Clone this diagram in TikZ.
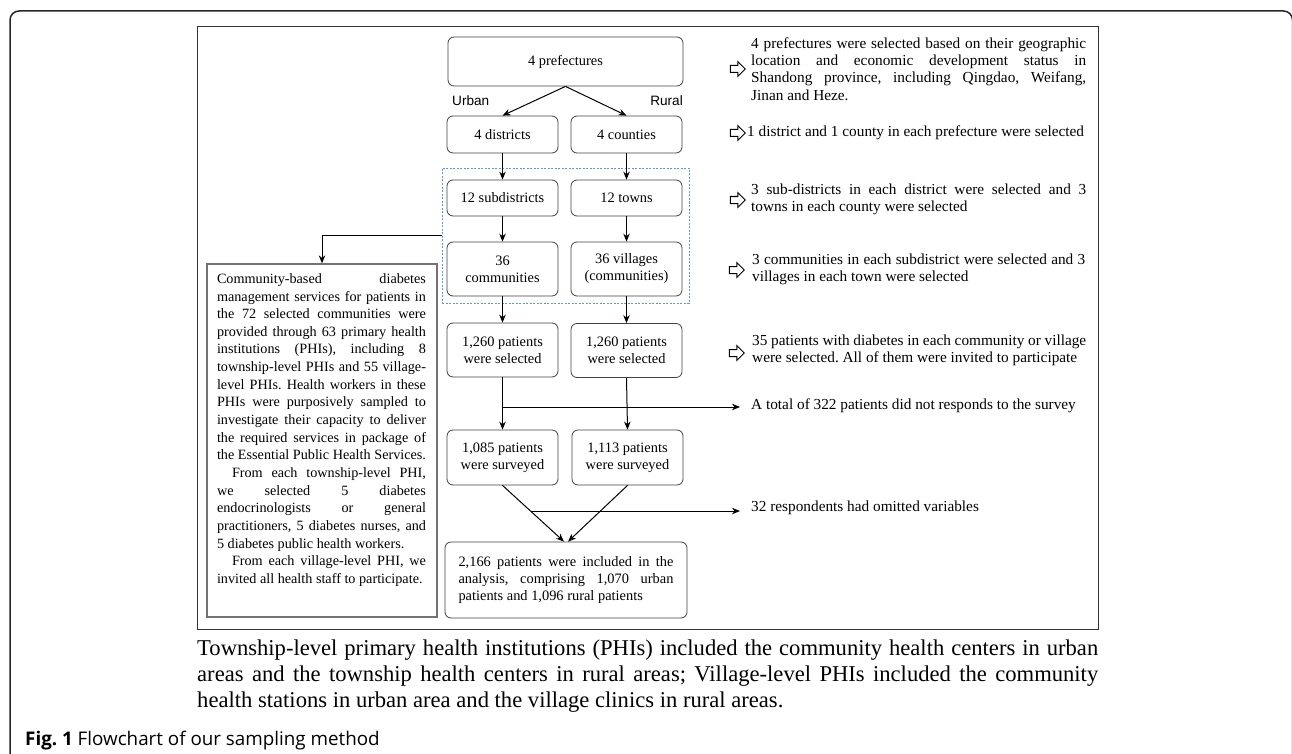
\documentclass[tikz,border=0pt]{standalone}
\usepackage{fontspec}
\setmainfont{Liberation Serif}
\newfontfamily\arialfont{Liberation Sans}
\newfontfamily\figfont{Open Sans}
\usetikzlibrary{arrows.meta,shapes.arrows,calc}
\frenchspacing
\newcommand\jl[2]{\makebox[#1][s]{#2}}
\tikzset{
  fbox/.style={draw=black!75, line width=0.8pt, rounded corners=6pt, align=center, inner sep=0pt,
    font=\fontsize{14.4}{17}\selectfont},
  arr/.style={-{Stealth[length=8pt,width=6.5pt]}, line width=1pt, black},
  hollow/.style={single arrow, draw=black, line width=1pt, minimum width=14pt, minimum height=15pt,
    single arrow head extend=4pt, single arrow tip angle=90, inner sep=0pt},
  rtext/.style={anchor=west, align=left, inner sep=0pt, font=\fontsize{15.3}{17.2}\selectfont},
  lbl/.style={inner sep=0pt, font=\arialfont\fontsize{13.6}{16}\selectfont},
}
\newcommand\shaft{\rule{0pt}{6pt}\hspace*{6pt}}
\begin{document}
\begin{tikzpicture}[x=1pt,y=-1pt]
\useasboundingbox (0,0) rectangle (1292,754);
% outer frame
\draw[line width=1.5pt, black!85, rounded corners=9pt] (10,780) -- (10,11) -- (1292.5,11) -- (1292.5,780);
% inner frame
\draw[line width=1pt, black!80] (197,27) rectangle (1098,629);
% dashed region
\node[draw={rgb,255:red,91;green,155;blue,213}, dashed, dash pattern=on 2pt off 1.5pt, line width=0.7pt,
  minimum width=247pt, minimum height=135pt, inner sep=0pt] (dbox) at (565.5,235.5) {};
% boxes
\node[fbox, minimum width=235pt, minimum height=49pt] (pref) at (565.5,61.5) {4 prefectures};
\node[lbl, anchor=west] (urb) at (452,101) {Urban};
\node[lbl, anchor=east] (rur) at (683,101) {Rural};
\node[fbox, minimum width=111pt, minimum height=37pt] (dist) at (502.5,134.5) {4 districts};
\node[fbox, minimum width=111pt, minimum height=37pt] (coun) at (626.5,134.5) {4 counties};
\node[fbox, minimum width=111pt, minimum height=36pt] (subd) at (502.5,198) {12 subdistricts};
\node[fbox, minimum width=111pt, minimum height=36pt] (town) at (626.5,198) {12 towns};
\node[fbox, minimum width=111pt, minimum height=54pt] (comm) at (502.5,269) {36\\communities};
\node[fbox, minimum width=111pt, minimum height=54pt] (vill) at (626.5,269) {36 villages\\(communities)};
\node[fbox, minimum width=111pt, minimum height=54pt] (selL) at (502.5,350) {1,260 patients\\were selected};
\node[fbox, minimum width=111pt, minimum height=54pt] (selR) at (626.5,350.5) {1,260 patients\\were selected};
\node[fbox, minimum width=111pt, minimum height=55pt] (surL) at (502.5,457.5) {1,085 patients\\were surveyed};
\node[fbox, minimum width=111pt, minimum height=55pt] (surR) at (627.5,457.5) {1,113 patients\\were surveyed};
\node[fbox, minimum width=242pt, minimum height=76pt, align=left] (fin) at (566,580)
  {\jl{215pt}{2,166 patients were included in the}\\
   \jl{215pt}{analysis, comprising 1,070 urban}\\
   patients and 1,096 rural patients};
% left box
\node[draw=black!55, line width=1.3pt, minimum width=230pt, minimum height=353pt, inner sep=0pt] (lbox) at (322,440.5) {};
\node[inner sep=0pt, align=left, font=\fontsize{14.2}{17.65}\selectfont] (ltext) at (321.5,430)
  {\jl{209pt}{Community-based diabetes}\\
   \jl{209pt}{management services for patients in}\\
   \jl{209pt}{the 72 selected communities were}\\
   \jl{209pt}{provided through 63 primary health}\\
   \jl{209pt}{institutions (PHIs), including 8}\\
   \jl{209pt}{township-level PHIs and 55 village-}\\
   \jl{209pt}{level PHIs. Health workers in these}\\
   \jl{209pt}{PHIs were purposively sampled to}\\
   \jl{209pt}{investigate their capacity to deliver}\\
   \jl{209pt}{the required services in package of}\\
   \jl{209pt}{the Essential Public Health Services.}\\
   \jl{209pt}{\hspace*{15pt}From each township-level PHI,}\\
   \jl{209pt}{we selected 5 diabetes}\\
   \jl{209pt}{endocrinologists or general}\\
   \jl{209pt}{practitioners, 5 diabetes nurses, and}\\
   5 diabetes public health workers.\\
   \jl{209pt}{\hspace*{15pt}From each village-level PHI, we}\\
   invited all health staff to participate.};
% connectors
\draw[arr] (pref.south) -- (dist.north);
\draw[arr] (pref.south) -- (coun.north);
\draw[arr] (dist.south) -- (subd.north);
\draw[arr] (coun.south) -- (town.north);
\draw[arr] (subd.south) -- (comm.north);
\draw[arr] (town.south) -- (vill.north);
\draw[arr] (comm.south) -- (selL.north);
\draw[arr] (vill.south) -- (selR.north);
\draw[arr] (selL.south) -- (surL.north);
\draw[arr] (selR.south) -- (surR.north);
\draw[arr] (dbox.west) -| (lbox.north);
\coordinate (j1) at (502.5,407);
\coordinate (e1) at (740,407);
\draw[arr] (j1) -- (e1);
\draw[arr] (surL.south) -- ([xshift=-2pt]fin.north);
\draw[arr] (surR.south) -- ([xshift=2pt]fin.north);
\path (surL.south) -- ([xshift=-2pt]fin.north) coordinate[pos=0.456] (j2);
\coordinate (e2) at (740,511);
\draw[arr] (j2) -- (j2 -| e2);
% hollow arrows
\node[hollow] (h1) at (736,69) {\shaft};
\node[hollow] (h2) at (736,133) {\shaft};
\node[hollow] (h3) at (736,200) {\shaft};
\node[hollow] (h4) at (735,270) {\shaft};
\node[hollow] (h5) at (735,353) {\shaft};
% right texts
\node[rtext] (t1) at (751,69)
  {\jl{335pt}{4 prefectures were selected based on their geographic}\\
   \jl{335pt}{location and economic development status in}\\
   \jl{335pt}{Shandong province, including Qingdao, Weifang,}\\
   Jinan and Heze.};
\node[rtext] (t2) at (747,133) {1 district and 1 county in each prefecture were selected};
\node[rtext] (t3) at (751,199.5)
  {\jl{335pt}{3 sub-districts in each district were selected and 3}\\
   towns in each county were selected};
\node[rtext] (t4) at (752,269)
  {\jl{333pt}{3 communities in each subdistrict were selected and 3}\\
   villages in each town were selected};
\node[rtext] (t5) at (752,350)
  {\jl{334pt}{35 patients with diabetes in each community or village}\\
   were selected. All of them were invited to participate};
\node[rtext] (t6) at (751,406) {A total of 322 patients did not responds to the survey};
\node[rtext] (t7) at (751,508) {32 respondents had omitted variables};
% caption
\node[inner sep=0pt, anchor=west, align=left, font=\fontsize{22.6}{26}\selectfont] (cap) at (197,676)
  {\jl{901pt}{Township-level primary health institutions (PHIs) included the community health centers in urban}\\
   \jl{901pt}{areas and the township health centers in rural areas; Village-level PHIs included the community}\\
   health stations in urban area and the village clinics in rural areas.};
\node[inner sep=0pt, anchor=base west, font=\figfont\fontsize{18.8}{22}\selectfont] (fig) at (25,745)
  {\textbf{Fig. 1} Flowchart of our sampling method};
\end{tikzpicture}
\end{document}
